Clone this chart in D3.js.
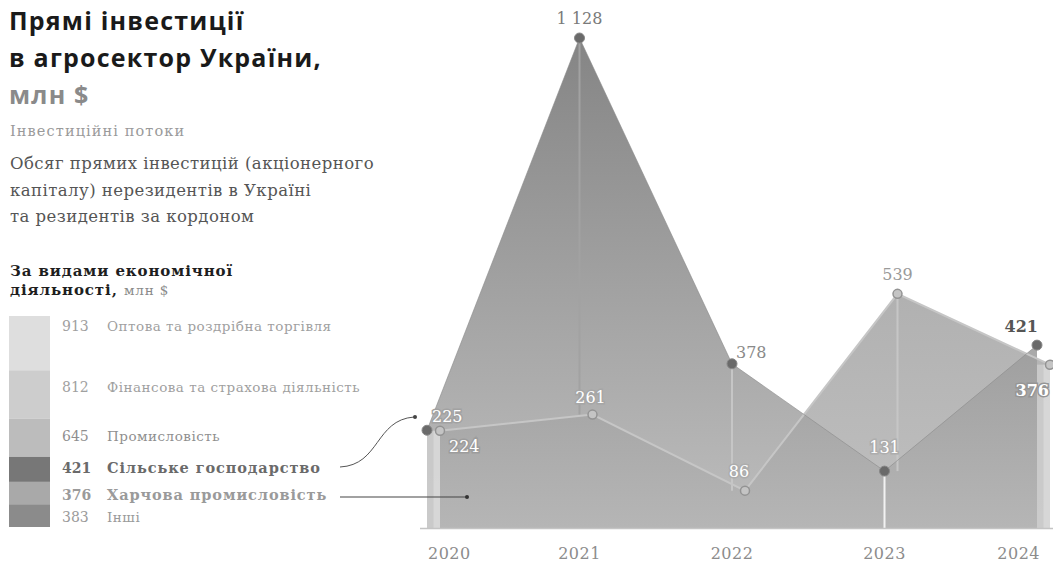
<!DOCTYPE html>
<html><head><meta charset="utf-8">
<script src="https://cdn.jsdelivr.net/npm/d3@7"></script>
<style>
body{margin:0;background:#fff;}
svg{display:block;}
</style></head><body>
<svg id="chart" width="1053" height="564"></svg>
<script>
// ---- data ----
const years = ["2020","2021","2022","2023","2024"];
const agriValues = [225, 1128, 378, 131, 421];   // Сільське господарство
const foodValues = [224, 261, 86, 539, 376];     // Харчова промисловість
const agriLabels = ["225","1 128","378","131","421"];
const foodLabels = ["224","261","86","539","376"];
const legendValues = [913, 812, 645, 421, 376, 383];
const legendNames = ["Оптова та роздрібна торгівля","Фінансова та страхова діяльність","Промисловість","Сільське господарство","Харчова промисловість","Інші"];
const titleLines = ["Прямі інвестиції","в агросектор України,"];
const titleUnit = "млн $";
const kicker = "Інвестиційні потоки";
const descLines = ["Обсяг прямих інвестицій (акціонерного","капіталу) нерезидентів в Україні","та резидентів за кордоном"];
const legendHead = ["За видами економічної","діяльності,"];

// ---- styles / layout ----
const svg = d3.select("#chart");
const serif = "'DejaVu Serif', serif";
const sans = "'Open Sans','Noto Sans',sans-serif";
const baseY = 528;
const x = d3.scalePoint().domain(years).range([427, 1037]);
const foodOffset = 13;
const y = d3.scaleLinear().domain([0, 1128]).range([baseY, 38]);

const defs = svg.append("defs");
function grad(id, c1, c2){
  const g = defs.append("linearGradient").attr("id", id).attr("gradientUnits","userSpaceOnUse")
    .attr("x1",0).attr("x2",0).attr("y1",38).attr("y2",baseY);
  g.append("stop").attr("offset","0%").attr("stop-color",c1);
  g.append("stop").attr("offset","100%").attr("stop-color",c2);
}
grad("gAgri","#747474","#b4b4b4");
grad("gFood","#a0a0a0","#c0c0c0");

const agri = years.map((yr,i)=>({x:x(yr), v:agriValues[i], label:agriLabels[i]}));
const food = years.map((yr,i)=>({x:x(yr)+foodOffset, v:foodValues[i], label:foodLabels[i]}));

const area = d3.area().x(d=>d.x).y0(baseY).y1(d=>y(d.v));
const line = d3.line().x(d=>d.x).y(d=>y(d.v));

// food area underneath
svg.append("path").datum(food).attr("d",area).attr("fill","url(#gFood)");
// agri area on top, slightly translucent
svg.append("path").datum(agri).attr("d",area).attr("fill","url(#gAgri)").attr("fill-opacity",0.88);

// edge strips at first / last year
[0,4].forEach(i=>{
  const top = y(Math.min(agri[i].v, food[i].v));
  svg.append("rect").attr("x",agri[i].x).attr("y",top).attr("width",foodOffset).attr("height",baseY-top)
    .attr("fill","#cdcdcd").attr("opacity",0.85);
  svg.append("rect").attr("x",agri[i].x+foodOffset*0.5).attr("y",top).attr("width",foodOffset*0.5).attr("height",baseY-top)
    .attr("fill","#dadada").attr("opacity",0.8);
});

// connector lines between the two series
const drops = [
  {x: agri[1].x, from: agri[1].v, to: foodValues[1], c:"#a2a2a2"},
  {x: agri[2].x, from: agri[2].v, to: foodValues[2], c:"#c6c6c6"},
  {x: food[3].x, from: food[3].v, to: agriValues[3], c:"#c6c6c6"},
];
drops.forEach(d=>{
  svg.append("line").attr("x1",d.x).attr("x2",d.x).attr("y1",y(d.from)).attr("y2",y(d.to))
    .attr("stroke",d.c).attr("stroke-width",2);
});
svg.append("line").attr("x1",agri[3].x).attr("x2",agri[3].x).attr("y1",y(agriValues[3])).attr("y2",baseY)
  .attr("stroke","#f2f2f2").attr("stroke-width",2);

// lines
svg.append("path").datum(food).attr("d",line).attr("fill","none").attr("stroke","#c6c6c6").attr("stroke-width",2);
svg.append("path").datum(agri).attr("d",line).attr("fill","none").attr("stroke","#8a8a8a").attr("stroke-width",0.6);

// baseline
svg.append("line").attr("x1",420).attr("x2",1053).attr("y1",baseY+0.5).attr("y2",baseY+0.5)
  .attr("stroke","#c4c4c4").attr("stroke-width",1.5);

// points
svg.selectAll(".pf").data(food).join("circle").attr("cx",d=>d.x).attr("cy",d=>y(d.v)).attr("r",4.5)
  .attr("fill","#c4c4c4").attr("stroke","#939393").attr("stroke-width",1.5);
svg.selectAll(".pa").data(agri).join("circle").attr("cx",d=>d.x).attr("cy",d=>y(d.v)).attr("r",5)
  .attr("fill","#6a6a6a").attr("stroke","#888").attr("stroke-width",1);

// value labels
const agriPos = [
  {dx:5, dy:-8, a:"start", c:"#ffffff", w:400, halo:"#a2a2a2"},
  {dx:0, dy:-14, a:"middle", c:"#7a7a7a", w:400, halo:"#fff"},
  {dx:4, dy:-6, a:"start", c:"#8a8a8a", w:400, halo:"#fff"},
  {dx:0, dy:-18, a:"middle", c:"#ffffff", w:400, halo:"#adadad"},
  {dx:1, dy:-13, a:"end", c:"#555555", w:700, halo:"#fff"}
];
const foodPos = [
  {dx:9, dy:21, a:"start", c:"#ffffff", w:400, halo:"#9c9c9c"},
  {dx:-2, dy:-12, a:"middle", c:"#ffffff", w:400, halo:"#a6a6a6"},
  {dx:-6, dy:-14, a:"middle", c:"#ffffff", w:400, halo:"#acacac"},
  {dx:0, dy:-14, a:"middle", c:"#9a9a9a", w:400, halo:"#fff"},
  {dx:-1, dy:31, a:"end", c:"#ffffff", w:700, halo:"#959595"}
];
function labels(data,pos){
  svg.append("g").selectAll("text").data(data).join("text")
    .attr("x",(d,i)=>d.x+pos[i].dx).attr("y",(d,i)=>y(d.v)+pos[i].dy)
    .attr("text-anchor",(d,i)=>pos[i].a)
    .attr("fill",(d,i)=>pos[i].c).attr("font-weight",(d,i)=>pos[i].w)
    .attr("stroke",(d,i)=>pos[i].halo).attr("stroke-width",3).attr("paint-order","stroke")
    .attr("font-family",serif).attr("font-size",16)
    .text(d=>d.label);
}
labels(agri,agriPos);
labels(food,foodPos);

// x axis labels
svg.append("g").selectAll("text").data(years).join("text")
  .attr("x",(d,i)=> i===0 ? x(d)+1 : i===years.length-1 ? x(d)+3 : x(d))
  .attr("y",559)
  .attr("text-anchor",(d,i)=> i===0 ? "start" : i===years.length-1 ? "end" : "middle")
  .attr("fill","#8c8c8c").attr("font-family",serif).attr("font-size",16).attr("letter-spacing",0.5)
  .text(d=>d);

// ---- title block ----
const tg = svg.append("g").attr("font-family",sans).attr("font-weight",700).attr("font-size",25).attr("letter-spacing",1.2);
titleLines.forEach((t,i)=>tg.append("text").attr("x",9).attr("y",30+i*37).attr("fill","#1a1a1a").text(t));
tg.append("text").attr("x",9).attr("y",104).attr("fill","#8a8a8a").text(titleUnit);
svg.append("text").attr("x",10).attr("y",136).attr("font-family",serif).attr("font-size",14.5).attr("letter-spacing",1.1)
  .attr("fill","#9a9a9a").text(kicker);
descLines.forEach((t,i)=>svg.append("text").attr("x",10).attr("y",169+i*26.5)
  .attr("font-family",serif).attr("font-size",16.5).attr("letter-spacing",0.45).attr("fill","#555").text(t));

// ---- legend ----
const lh = svg.append("g").attr("font-family",serif).attr("font-size",15).attr("letter-spacing",0.9);
lh.append("text").attr("x",10).attr("y",276).attr("font-weight",700).attr("fill","#1e1e1e").text(legendHead[0]);
const l2 = lh.append("text").attr("x",10).attr("y",295);
l2.append("tspan").attr("font-weight",700).attr("fill","#1e1e1e").text(legendHead[1]+" ");
l2.append("tspan").attr("fill","#8a8a8a").attr("font-size",13.5).text(titleUnit);

const segColors = ["#dedede","#cdcdcd","#bcbcbc","#777777","#a9a9a9","#8b8b8b"];
const total = d3.sum(legendValues);
const ly = d3.scaleLinear().domain([0,total]).range([316,527]);
let acc = 0;
const segs = legendValues.map((v,i)=>{const s={v, i, y0:acc}; acc+=v; return s;});
svg.append("g").selectAll("rect").data(segs).join("rect")
  .attr("x",9).attr("width",41).attr("y",d=>ly(d.y0)).attr("height",d=>ly(d.y0+d.v)-ly(d.y0))
  .attr("fill",d=>segColors[d.i]);

const labelY = [331, 392, 441, 473, 500, 522];
const bold = [false,false,false,true,true,false];
const lc = ["#a0a0a0","#a0a0a0","#8f8f8f","#6a6a6a","#9a9a9a","#9a9a9a"];
const lg = svg.append("g").attr("font-family",serif);
segs.forEach((d,i)=>{
  lg.append("text").attr("x",62).attr("y",labelY[i]).attr("font-size",bold[i]?14:14)
    .attr("font-weight",bold[i]?700:400).attr("fill",lc[i]).text(legendValues[i]);
  lg.append("text").attr("x",107).attr("y",labelY[i]).attr("font-size",bold[i]?14.5:13.5)
    .attr("letter-spacing",bold[i]?0.9:0.5)
    .attr("font-weight",bold[i]?700:400).attr("fill",lc[i]).text(legendNames[i]);
});

// connectors from legend to chart
const cAgri = d3.path();
cAgri.moveTo(340,467); cAgri.bezierCurveTo(380,465,375,420,414,417);
svg.append("path").attr("d",cAgri.toString()).attr("fill","none").attr("stroke","#555").attr("stroke-width",1);
svg.append("circle").attr("cx",415).attr("cy",417).attr("r",2).attr("fill","#444");
svg.append("line").attr("x1",340).attr("x2",467).attr("y1",497).attr("y2",497).attr("stroke","#444").attr("stroke-width",1.2);
svg.append("circle").attr("cx",467).attr("cy",497).attr("r",2).attr("fill","#333");
</script>
</body></html>
